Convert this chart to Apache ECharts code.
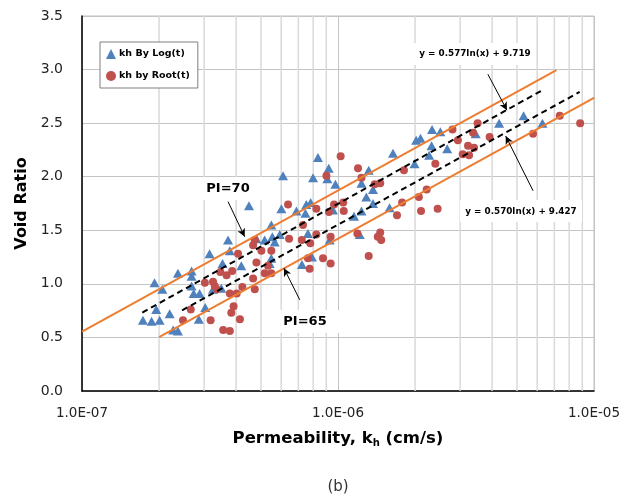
<!DOCTYPE html>
<html><head><meta charset="utf-8">
<script src="https://cdn.jsdelivr.net/npm/echarts@6/dist/echarts.min.js"></script>
<style>html,body{margin:0;padding:0;background:#fff}#c{width:627px;height:500px}</style>
</head><body><div id="c"></div>
<script>
// ---- data ----
const seriesNames = ['kh By Log(t)', 'kh by Root(t)'];

// kh by Log(t): permeability (cm/s) and void ratio
const kLog = [
  1.73e-7,1.87e-7,2.01e-7,1.95e-7,2.20e-7,1.92e-7,2.06e-7,2.27e-7,2.37e-7,2.37e-7,
  2.68e-7,2.68e-7,2.68e-7,2.73e-7,2.88e-7,3.25e-7,3.50e-7,3.03e-7,2.86e-7,3.15e-7,
  3.54e-7,3.72e-7,3.78e-7,4.19e-7,4.49e-7,4.80e-7,5.17e-7,5.54e-7,5.66e-7,5.92e-7,
  5.49e-7,5.41e-7,6.10e-7,6.01e-7,6.88e-7,7.52e-7,7.82e-7,7.46e-7,7.99e-7,8.35e-7,
  9.20e-7,9.09e-7,9.77e-7,9.56e-7,1.155e-6,7.63e-7,7.91e-7,7.23e-7,5.49e-7,1.235e-6,
  1.318e-6,1.37e-6,1.29e-6,1.37e-6,1.235e-6,1.59e-6,1.216e-6,1.64e-6,1.99e-6,2.02e-6,
  2.10e-6,2.33e-6,2.32e-6,2.27e-6,2.51e-6,2.67e-6,3.45e-6,4.26e-6,5.31e-6,6.29e-6,
  9.28e-7
];
const eLog = [
  0.66,0.65,0.66,0.76,0.72,1.01,0.95,0.57,0.56,1.10,
  1.12,1.07,0.98,0.91,0.91,0.95,0.96,0.78,0.67,1.28,
  1.19,1.41,1.31,1.17,1.73,1.42,1.41,1.44,1.39,1.46,
  1.24,1.19,2.01,1.70,1.68,1.74,1.76,1.66,1.99,2.18,
  2.08,1.98,1.93,1.69,1.63,1.47,1.25,1.18,1.55,1.94,
  2.06,1.88,1.81,1.75,1.68,1.71,1.46,2.22,2.12,2.34,
  2.36,2.44,2.29,2.20,2.42,2.26,2.40,2.50,2.57,2.50,
  1.41
];

// kh by Root(t)
const kRoot = [
  2.48e-7,2.66e-7,3.18e-7,3.02e-7,3.25e-7,3.30e-7,3.36e-7,3.47e-7,3.67e-7,3.86e-7,
  3.56e-7,3.78e-7,3.91e-7,3.83e-7,4.14e-7,3.78e-7,4.02e-7,4.23e-7,4.07e-7,4.66e-7,
  4.73e-7,4.80e-7,4.73e-7,4.66e-7,5.02e-7,5.17e-7,5.49e-7,5.33e-7,5.49e-7,6.44e-7,
  7.22e-7,7.79e-7,8.23e-7,7.63e-7,7.75e-7,8.74e-7,9.36e-7,9.36e-7,7.30e-7,6.38e-7,
  8.23e-7,9.22e-7,9.65e-7,1.048e-6,1.053e-6,1.024e-6,9.01e-7,1.197e-6,1.235e-6,1.391e-6,
  1.462e-6,1.81e-6,2.40e-6,2.07e-6,2.22e-6,1.78e-6,2.11e-6,2.45e-6,1.70e-6,1.19e-6,
  1.43e-6,1.462e-6,1.475e-6,1.318e-6,2.80e-6,3.51e-6,3.37e-6,2.94e-6,3.91e-6,5.78e-6,
  3.22e-6,3.40e-6,3.07e-6,3.25e-6,7.35e-6,8.83e-6
];
const eRoot = [
  0.66,0.76,0.66,1.01,1.02,0.98,0.95,1.11,1.08,1.12,
  0.57,0.56,0.79,0.73,0.67,0.91,0.91,0.97,1.28,1.05,
  0.95,1.20,1.41,1.36,1.31,1.10,1.10,1.17,1.31,1.42,
  1.41,1.38,1.46,1.24,1.14,1.24,1.19,1.44,1.55,1.74,
  1.70,1.67,1.74,1.76,1.68,2.19,2.01,2.08,1.99,1.93,
  1.94,2.06,2.12,1.81,1.88,1.76,1.68,1.70,1.64,1.47,
  1.44,1.48,1.41,1.26,2.44,2.50,2.41,2.34,2.37,2.40,
  2.29,2.27,2.21,2.20,2.57,2.50
];

// trend lines (endpoints of the drawn segments)
const trendLogK = [1.72e-7, 6.32e-6];   const trendLogE = [0.732, 2.811];  // y = 0.577ln(x) + 9.719
const trendRootK = [2.46e-7, 8.79e-6];  const trendRootE = [0.753, 2.791]; // y = 0.570ln(x) + 9.427
// PI bound lines
const pi70K = [1.0e-7, 7.13e-6];  const pi70E = [0.555, 2.994];
const pi65K = [2.0e-7, 1.0e-5];   const pi65E = [0.503, 2.735];

// annotation arrows [fromK, fromE, toK, toE]
const arrowPI70 = [3.72e-7, 1.767, 4.32e-7, 1.44];
const arrowPI65 = [7.09e-7, 0.851, 6.15e-7, 1.146];
const arrowEq1  = [3.85e-6, 2.956, 4.57e-6, 2.621];
const arrowEq2  = [5.78e-6, 1.869, 4.52e-6, 2.379];

const yTicks = [0, 0.5, 1.0, 1.5, 2.0, 2.5, 3.0, 3.5];
const minorMult = [2,3,4,5,6,7,8,9];
const decades = [1e-7, 1e-6];
const eqText1 = 'y = 0.577ln(x) + 9.719';
const eqText2 = 'y = 0.570ln(x) + 9.427';

// ---- build ----
const zip = (a, b) => a.map((v, i) => [v, b[i]]);
const yMin = yTicks[0], yMax = yTicks[yTicks.length - 1];
const minorSeries = [];
decades.forEach(d => minorMult.forEach(m => {
  const x = +(m * d).toPrecision(3);
  minorSeries.push({
    type: 'line', z: 1, silent: true, symbol: 'none',
    lineStyle: { color: '#d9d9d9', width: 1.5 },
    data: [[x, yMin], [x, yMax]]
  });
}));

function arrow(a) {
  return [{ coord: [a[0], a[1]] }, { coord: [a[2], a[3]] }];
}
function fmtE(v) {
  const e = Math.round(Math.log10(v));
  const m = v / Math.pow(10, e);
  return m.toFixed(1) + 'E' + (e < 0 ? '-' : '+') + String(Math.abs(e)).padStart(2, '0');
}

const FONT = 'DejaVu Sans';
const orange = '#ED7D31';

const chart = echarts.init(document.getElementById('c'), null, { renderer: 'canvas' });
chart.setOption({
  animation: false,
  backgroundColor: '#fff',
  textStyle: { fontFamily: FONT },
  grid: { left: 82, right: 33, top: 16, bottom: 109, show: true, borderColor: '#bfbfbf', borderWidth: 1 },
  legend: {
    data: seriesNames,
    orient: 'vertical',
    left: 100, top: 42,
    padding: [7, 8, 7, 6],
    itemGap: 12,
    itemWidth: 10, itemHeight: 10,
    itemStyle: { borderWidth: 0 },
    backgroundColor: '#fff',
    borderColor: '#7f7f7f', borderWidth: 1,
    textStyle: { fontFamily: FONT, fontWeight: 'bold', fontSize: 9.5, color: '#000', padding: [0, 0, 0, -2] }
  },
  xAxis: {
    type: 'log', logBase: 10, min: 1e-7, max: 1e-5,
    axisLine: { show: true, lineStyle: { color: '#000', width: 1.5 } },
    axisTick: { show: false },
    axisLabel: { formatter: fmtE, fontFamily: FONT, fontSize: 13.5, color: '#222', margin: 15 },
    splitLine: { show: true, lineStyle: { color: '#c4c4c4', width: 1 } },
    name: '{a|Permeability, k}{s|h}{a| (cm/s)}',
    nameLocation: 'middle', nameGap: 38,
    nameTextStyle: {
      rich: {
        a: { fontFamily: FONT, fontWeight: 'bold', fontSize: 16.5, color: '#000' },
        s: { fontFamily: FONT, fontWeight: 'bold', fontSize: 10, color: '#000', padding: [9, 0, 0, 0] }
      }
    }
  },
  yAxis: {
    type: 'value', min: yMin, max: yMax, interval: 0.5,
    axisLine: { show: true, lineStyle: { color: '#000', width: 1.5 } },
    axisTick: { show: false },
    axisLabel: { formatter: v => v.toFixed(1), fontFamily: FONT, fontSize: 14, color: '#222', margin: 19 },
    splitLine: { show: true, lineStyle: { color: '#c4c4c4', width: 1 } },
    name: 'Void Ratio', nameLocation: 'middle', nameGap: 52, nameRotate: 90,
    nameTextStyle: { fontFamily: FONT, fontWeight: 'bold', fontSize: 16, color: '#000' }
  },
  series: minorSeries.concat([
    {
      name: seriesNames[0], type: 'scatter', z: 3,
      symbol: 'triangle', symbolSize: [10, 9],
      itemStyle: { color: '#4F81BD', opacity: 1, borderWidth: 0 },
      emphasis: { disabled: true },
      data: zip(kLog, eLog)
    },
    {
      name: seriesNames[1], type: 'scatter', z: 3,
      symbol: 'circle', symbolSize: 8,
      itemStyle: { color: '#C0504D', opacity: 1, borderWidth: 0 },
      emphasis: { disabled: true },
      data: zip(kRoot, eRoot)
    },
    {
      name: 'PI=70', type: 'line', z: 4, symbol: 'none', silent: true,
      lineStyle: { color: orange, width: 2 },
      data: zip(pi70K, pi70E)
    },
    {
      name: 'PI=65', type: 'line', z: 4, symbol: 'none', silent: true,
      lineStyle: { color: orange, width: 2 },
      data: zip(pi65K, pi65E)
    },
    {
      name: 'trend-log', type: 'line', z: 4, symbol: 'none', silent: true,
      lineStyle: { color: '#000', width: 2, type: [6, 4] },
      data: zip(trendLogK, trendLogE)
    },
    {
      name: 'trend-root', type: 'line', z: 4, symbol: 'none', silent: true,
      lineStyle: { color: '#000', width: 2, type: [6, 4] },
      data: zip(trendRootK, trendRootE)
    },
    {
      name: 'arrows', type: 'line', data: [], z: 5, silent: true,
      markLine: {
        silent: true, symbol: ['none', 'arrow'], symbolSize: [6, 8], label: { show: false },
        lineStyle: { color: '#000', type: 'solid', width: 1 },
        data: [arrow(arrowPI70), arrow(arrowPI65), arrow(arrowEq1), arrow(arrowEq2)],
        animation: false
      }
    }
  ]),
  graphic: [
    { type: 'rect', shape: { x: 188, y: 177, width: 80, height: 23 }, style: { fill: '#fff' }, z: 6, silent: true },
    { type: 'text', x: 228, y: 188.5, style: { text: 'PI=70', fontFamily: FONT, fontWeight: 'bold', fontSize: 13, fill: '#000', align: 'center', verticalAlign: 'middle' }, z: 7 },
    { type: 'rect', shape: { x: 263, y: 310, width: 80, height: 23 }, style: { fill: '#fff' }, z: 6, silent: true },
    { type: 'text', x: 305, y: 321.5, style: { text: 'PI=65', fontFamily: FONT, fontWeight: 'bold', fontSize: 13, fill: '#000', align: 'center', verticalAlign: 'middle' }, z: 7 },
    { type: 'rect', shape: { x: 413, y: 43, width: 121, height: 22 }, style: { fill: '#fff' }, z: 6, silent: true },
    { type: 'text', x: 475, y: 54, style: { text: eqText1, fontFamily: FONT, fontWeight: 'bold', fontSize: 8.8, fill: '#000', align: 'center', verticalAlign: 'middle' }, z: 7 },
    { type: 'rect', shape: { x: 460, y: 200, width: 122, height: 22 }, style: { fill: '#fff' }, z: 6, silent: true },
    { type: 'text', x: 521, y: 211.5, style: { text: eqText2, fontFamily: FONT, fontWeight: 'bold', fontSize: 8.8, fill: '#000', align: 'center', verticalAlign: 'middle' }, z: 7 },
    { type: 'text', x: 338, y: 487, style: { text: '(b)', fontFamily: FONT, fontSize: 15, fill: '#333', align: 'center', verticalAlign: 'middle' }, z: 7 }
  ]
});
</script>
</body></html>
